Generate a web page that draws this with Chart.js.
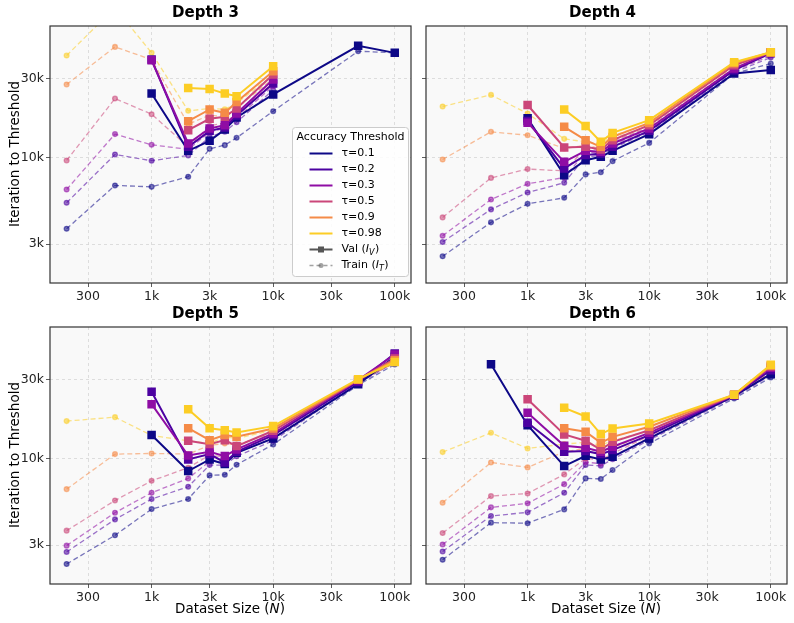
<!DOCTYPE html>
<html>
<head>
<meta charset="utf-8">
<script src="https://cdn.jsdelivr.net/npm/chart.js@4.4.0/dist/chart.umd.min.js"></script>
<style>
  body { margin: 0; background: #fff; width: 794px; height: 623px; position: relative; overflow: hidden; font-family: "DejaVu Sans", sans-serif; }
  canvas { position: absolute; }
  .lab { position: absolute; font-size: 13.5px; line-height: 16px; color: #000; white-space: nowrap; text-align: center; width: 200px; }
  .ylab { transform: rotate(-90deg); }
</style>
</head>
<body>
<canvas id="c3" width="418" height="300" style="left:0;top:0"></canvas>
<canvas id="c4" width="376" height="300" style="left:418px;top:0"></canvas>
<canvas id="c5" width="418" height="323" style="left:0;top:300px"></canvas>
<canvas id="c6" width="376" height="323" style="left:418px;top:300px"></canvas>

<div class="lab ylab" style="left:-86px;top:146px">Iteration to Threshold</div>
<div class="lab ylab" style="left:-86px;top:447px">Iteration to Threshold</div>
<div class="lab" style="left:130px;top:600px">Dataset Size (<i>N</i>)</div>
<div class="lab" style="left:506px;top:600px">Dataset Size (<i>N</i>)</div>

<script>
// dataset sizes (x) and thresholds
const sizes = [200, 500, 1000, 2000, 3000, 4000, 5000, 10000, 50000, 100000];
const taus = ['0.1', '0.2', '0.3', '0.5', '0.9', '0.98'];
const colors = ['#0d0887', '#4c02a1', '#8f0da4', '#cb4679', '#f58b47', '#fccd25'];

const xTicks = [300, 1000, 3000, 10000, 30000, 100000];
const xTickLabels = ['300', '1k', '3k', '10k', '30k', '100k'];
const yTicks = [3000, 10000, 30000];
const yTickLabels = ['3k', '10k', '30k'];

// rows = tau 0.1 .. 0.98, columns = sizes
const d3Val = [
  [null, null, 24300, 10960, 12590, 14740, 17420, 23970, 47100, 42700],
  [null, null, 38900, 11580, 14460, 15160, 17900, 27900, null, null],
  [null, null, 38500, 12140, 14950, 15650, 18400, 29500, null, null],
  [null, null, null, 14600, 17090, 17570, 19730, 31600, null, null],
  [null, null, null, 16550, 19460, 18570, 21600, 33100, null, null],
  [null, null, null, 26250, 25900, 24300, 23400, 35480, null, null]
];
const d3Train = [
  [3715, 6780, 6650, 7650, 11270, 11860, 13130, 19000, 43700, 42700],
  [5330, 10420, 9550, 10280, 13300, 14300, 16300, 25500, null, null],
  [6410, 13830, 11920, 11180, 14200, 15000, 17200, 27000, null, null],
  [9590, 22650, 18230, 11580, 15500, 16200, 18300, 28000, null, null],
  [27540, 46400, 38900, 15850, 18000, 17600, 19800, 30000, null, null],
  [41150, 80000, 42700, 19100, 19700, 19500, 21200, 31500, null, null]
];

const d4Val = [
  [null, null, 17200, 7820, 9630, 10090, 10960, 13810, 32070, 33700],
  [null, null, 16600, 8590, 10330, 10570, 11580, 14460, 33570, 42500],
  [null, null, 16200, 9410, 10960, 10810, 12140, 14950, 34360, 43000],
  [null, null, 20700, 11490, 11580, 11170, 12710, 15650, 35970, 43000],
  [null, null, null, 15290, 12710, 11580, 13300, 16150, 37000, 43100],
  [null, null, null, 19460, 15450, 12420, 14060, 16780, 37500, 43100]
];
const d4Train = [
  [2535, 4060, 5250, 5710, 7900, 8150, 9500, 12240, 32070, 36800],
  [3090, 4860, 6150, 7030, 10090, 10300, 11320, 14270, 32600, 40000],
  [3370, 5580, 6930, 7570, 10700, 10700, 11900, 14800, 33300, 41000],
  [4350, 7530, 8510, 8300, 11350, 11100, 12500, 15200, 34500, 42000],
  [9720, 14270, 13620, 11330, 11860, 11300, 12900, 15600, 35500, 42500],
  [20290, 23830, 18410, 12940, 12420, 12030, 13500, 16000, 36000, 42800]
];

const d5Val = [
  [null, null, 13830, 8390, 9860, 9250, 10820, 13200, 28040, 40960],
  [null, null, 25210, 9860, 10620, 9460, 10970, 13830, 28900, 42920],
  [null, null, 21250, 10420, 10970, 10330, 11330, 14140, 29640, 42300],
  [null, null, null, 12780, 12200, 12890, 11870, 14680, 29800, 40000],
  [null, null, null, 15220, 12890, 13830, 13510, 15160, 29900, 39100],
  [null, null, null, 19820, 15220, 14810, 14340, 15660, 30060, 38200]
];
const d5Train = [
  [2310, 3440, 4950, 5690, 7900, 7970, 9160, 12140, 27700, 36850],
  [2730, 4290, 5690, 6750, 9120, 9120, 10300, 12800, 28300, 38000],
  [2980, 4710, 6210, 7580, 9600, 9600, 10800, 13300, 28800, 38000],
  [3670, 5580, 7330, 8790, 10470, 10200, 11300, 13700, 29000, 38000],
  [6530, 10620, 10720, 10620, 12000, 12300, 12100, 14200, 29300, 37800],
  [16790, 17740, 13760, 12780, 12310, 13500, 13200, 14800, 29500, 37500]
];

const d6Val = [
  [null, 37000, 15870, 8990, 10380, 9860, 10230, 13200, 23850, 32200],
  [null, null, 16400, 10970, 11070, 10620, 11230, 13830, 24000, 34050],
  [null, null, 18840, 11920, 11590, 10970, 11760, 14270, 24100, 35200],
  [null, null, 22770, 13950, 12780, 11320, 12600, 14800, 24150, 35800],
  [null, null, null, 15220, 14480, 12430, 13500, 15520, 24200, 36320],
  [null, null, null, 20190, 17910, 14020, 15160, 16250, 24200, 36650]
];
const d6Train = [
  [2450, 4100, 4070, 4930, 7580, 7520, 8510, 12310, 22990, 30760],
  [2750, 4500, 4730, 6210, 9120, 9030, 9900, 12900, 23400, 31800],
  [3030, 5070, 5360, 7000, 9500, 9300, 10300, 13300, 23600, 32500],
  [3550, 5930, 6150, 8010, 10000, 9800, 10700, 13700, 23800, 33000],
  [5410, 9460, 8830, 10970, 11500, 11000, 11600, 14200, 23900, 33500],
  [10920, 14270, 11490, 12200, 12500, 12000, 12800, 14700, 24000, 34000]
];

Chart.defaults.font.family = '"DejaVu Sans", sans-serif';
Chart.defaults.color = '#222';

function rgba(hex, a) {
  const n = parseInt(hex.slice(1), 16);
  return `rgba(${n >> 16},${(n >> 8) & 255},${n & 255},${a})`;
}

function pts(row) {
  return sizes.map((x, i) => ({ x: x, y: row[i] })).filter(p => p.y !== null);
}

// plot background + box frame
const framePlugin = {
  id: 'frame',
  beforeDraw(chart) {
    const { ctx, chartArea: a } = chart;
    ctx.save();
    ctx.fillStyle = '#f9f9f9';
    ctx.fillRect(a.left, a.top, a.right - a.left, a.bottom - a.top);
    ctx.restore();
  },
  afterDraw(chart) {
    const { ctx, chartArea: a } = chart;
    ctx.save();
    ctx.strokeStyle = '#333';
    ctx.lineWidth = 1.2;
    ctx.strokeRect(a.left, a.top, a.right - a.left, a.bottom - a.top);
    ctx.restore();
  }
};

// legend box, only on Depth 3 panel
const legendPlugin = {
  id: 'boxLegend',
  afterDraw(chart) {
    if (chart.canvas.id !== 'c3') return;
    const ctx = chart.ctx;
    const x0 = 292.5, y0 = 127.5, w = 116, h = 149;
    ctx.save();
    ctx.beginPath();
    ctx.roundRect(x0, y0, w, h, 3);
    ctx.fillStyle = 'rgba(255,255,255,0.85)';
    ctx.fill();
    ctx.strokeStyle = '#cccccc';
    ctx.lineWidth = 1;
    ctx.stroke();

    const fam = '"DejaVu Sans"';
    ctx.fillStyle = '#000';
    ctx.textBaseline = 'middle';
    ctx.font = '11px ' + fam;
    ctx.textAlign = 'center';
    ctx.fillText('Accuracy Threshold', x0 + w / 2, 137.5);
    ctx.textAlign = 'left';

    const lx0 = 309.5, lx1 = 332.5, tx = 341.5;
    taus.forEach((t, i) => {
      const y = 153.5 + i * 16;
      ctx.strokeStyle = colors[i];
      ctx.lineWidth = 2;
      ctx.beginPath(); ctx.moveTo(lx0, y); ctx.lineTo(lx1, y); ctx.stroke();
      ctx.fillText('τ=' + t, tx, y);
    });

    // Val (I_V)
    let y = 153.5 + 6 * 16;
    ctx.strokeStyle = '#555'; ctx.fillStyle = '#555'; ctx.lineWidth = 2;
    ctx.beginPath(); ctx.moveTo(lx0, y); ctx.lineTo(lx1, y); ctx.stroke();
    ctx.fillRect((lx0 + lx1) / 2 - 3, y - 3, 6, 6);
    drawSub(ctx, 'Val (', 'V', tx, y, fam);

    // Train (I_T)
    y += 16;
    ctx.strokeStyle = 'rgba(85,85,85,0.55)'; ctx.fillStyle = 'rgba(85,85,85,0.55)'; ctx.lineWidth = 1.3;
    ctx.setLineDash([4, 3]);
    ctx.beginPath(); ctx.moveTo(lx0, y); ctx.lineTo(lx1, y); ctx.stroke();
    ctx.setLineDash([]);
    ctx.beginPath(); ctx.arc((lx0 + lx1) / 2, y, 2.5, 0, Math.PI * 2); ctx.fill();
    drawSub(ctx, 'Train (', 'T', tx, y, fam);
    ctx.restore();
  }
};

function drawSub(ctx, pre, sub, x, y, fam) {
  ctx.fillStyle = '#000';
  ctx.font = '11px ' + fam;
  ctx.fillText(pre, x, y);
  x += ctx.measureText(pre).width;
  ctx.font = 'italic 11px ' + fam;
  ctx.fillText('I', x, y);
  x += ctx.measureText('I').width;
  ctx.font = 'italic 8px ' + fam;
  ctx.fillText(sub, x, y + 3);
  x += ctx.measureText(sub).width + 0.5;
  ctx.font = '11px ' + fam;
  ctx.fillText(')', x, y);
}

function makePanel(id, title, val, train, showY, xHeight, titleTop) {
  const datasets = [];
  taus.forEach((t, i) => {
    datasets.push({
      label: 'Val τ=' + t,
      data: pts(val[i]),
      borderColor: colors[i],
      backgroundColor: colors[i],
      borderWidth: 2,
      pointStyle: 'rect',
      pointRadius: 4.6,
      pointHoverRadius: 4.6,
      order: 5 - i
    });
    datasets.push({
      label: 'Train τ=' + t,
      data: pts(train[i]),
      borderColor: rgba(colors[i], 0.55),
      backgroundColor: rgba(colors[i], 0.55),
      borderWidth: 1.3,
      borderDash: [5, 3],
      pointStyle: 'circle',
      pointRadius: 2.4,
      pointHoverRadius: 2.4,
      order: 20 - i
    });
  });

  new Chart(document.getElementById(id), {
    type: 'line',
    data: { datasets: datasets },
    options: {
      responsive: false,
      animation: false,
      events: [],
      layout: { padding: { left: 0, right: 7, top: 0, bottom: 0 } },
      plugins: {
        legend: { display: false },
        tooltip: { enabled: false },
        title: {
          display: true,
          text: title,
          color: '#000',
          font: { size: 15, weight: 'bold' },
          padding: { top: titleTop, bottom: 4 }
        }
      },
      scales: {
        x: {
          type: 'logarithmic',
          min: 146,
          max: 136000,
          afterBuildTicks: s => { s.ticks = xTicks.map(v => ({ value: v })); },
          afterFit: s => { s.height = xHeight; },
          ticks: {
            autoSkip: false,
            maxRotation: 0,
            padding: 2,
            color: '#222',
            font: { size: 12.5 },
            callback: v => xTickLabels[xTicks.indexOf(v)] || ''
          },
          grid: { color: '#d6d6d6', lineWidth: 0.8, tickLength: 4, tickColor: '#333' },
          border: { display: false, dash: [3, 3] }
        },
        y: {
          type: 'logarithmic',
          min: 1750,
          max: 62000,
          afterBuildTicks: s => { s.ticks = yTicks.map(v => ({ value: v })); },
          afterFit: s => { s.width = showY ? 50 : 8; },
          ticks: {
            padding: 2,
            color: '#222',
            font: { size: 12.5 },
            callback: v => showY ? (yTickLabels[yTicks.indexOf(v)] || '') : ''
          },
          grid: { color: '#d6d6d6', lineWidth: 0.8, tickLength: 4, tickColor: '#333' },
          border: { display: false, dash: [3, 3] }
        }
      }
    },
    plugins: [framePlugin, legendPlugin]
  });
}

makePanel('c3', 'Depth 3', d3Val, d3Train, true, 17, 4);
makePanel('c4', 'Depth 4', d4Val, d4Train, false, 17, 4);
makePanel('c5', 'Depth 5', d5Val, d5Train, true, 39, 5);
makePanel('c6', 'Depth 6', d6Val, d6Train, false, 39, 5);
</script>
</body>
</html>
